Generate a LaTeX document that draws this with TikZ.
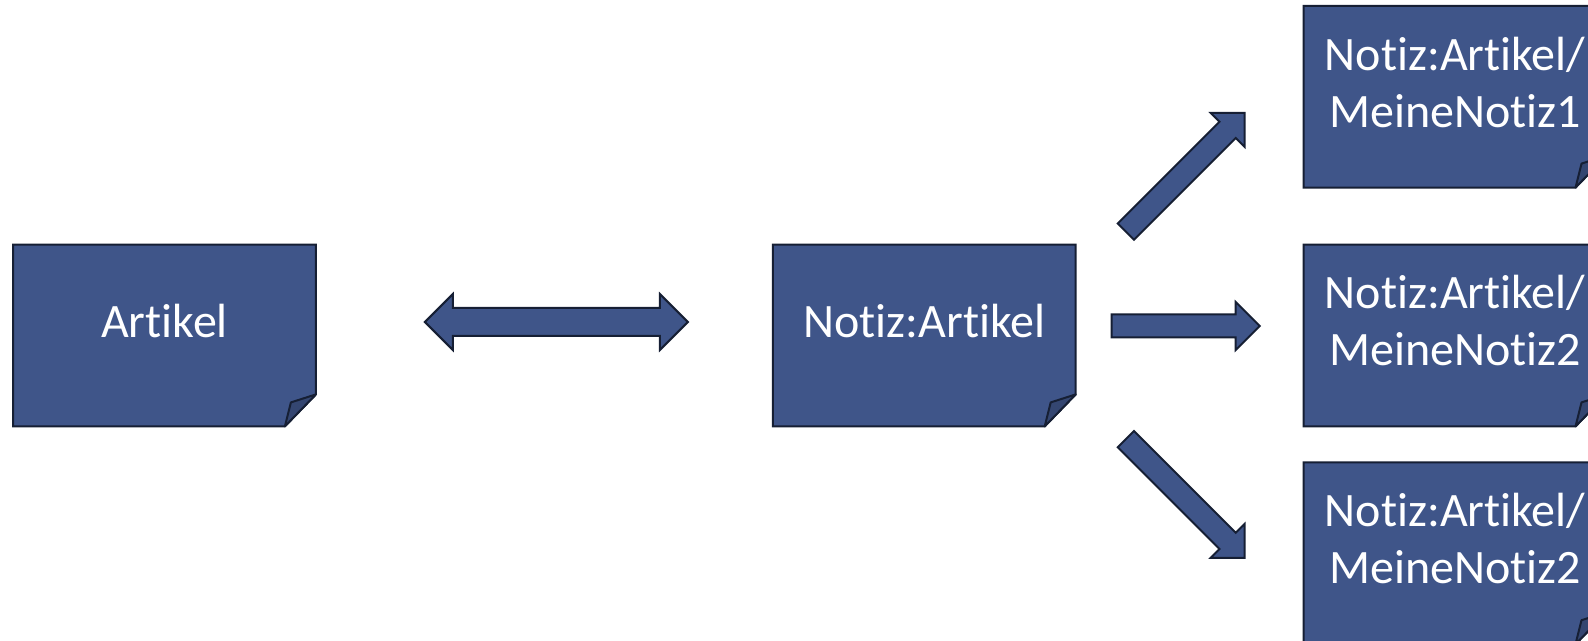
\documentclass[tikz,border=0pt]{standalone}
\usepackage{fontspec}
\setmainfont{Carlito}[Ligatures={NoCommon,NoContextual}, RawFeature={-calt}]
\usetikzlibrary{positioning,calc,backgrounds}

\definecolor{notizblau}{RGB}{63,85,137}
\definecolor{faltblau}{RGB}{52,70,113}
\definecolor{randblau}{RGB}{22,31,52}

\tikzset{
  notiz/.style={minimum width=151pt, minimum height=76pt, inner sep=0pt,
    align=center, text=white, font=\fontsize{24}{28.5}\selectfont},
  notizform/.style={fill=notizblau, draw=randblau, line width=1pt},
  falte/.style={fill=faltblau, draw=randblau, line width=1pt, line join=round},
  pfeil/.style={fill=notizblau, draw=randblau, line width=1pt, x=1pt, y=1pt}
}

\begin{document}
\begin{tikzpicture}[x=0.5pt, y=-0.5pt]
\useasboundingbox (0,0) rectangle (1588,641);

%% Notizen
\node[notiz] (artikel) at (164.5,321) {Artikel};
\node[notiz, right=228.5pt of artikel] (notiz) {Notiz:Artikel};
\node[notiz, right=114pt of notiz] (n2) {Notiz:Artikel/\\MeineNotiz2};
\node[notiz, above=43pt of n2] (n1) {Notiz:Artikel/\\MeineNotiz1};
\node[notiz, below=32.5pt of n2] (n3) {Notiz:Artikel/\\MeineNotiz2};

%% Zettel mit Eselsohr
\begin{scope}[on background layer]
 \foreach \n in {artikel, notiz, n1, n2, n3}
  {
    \draw[notizform] (\n.north west) -- (\n.north east) -- ([yshift=1.5pt]\n.south east)
      -- ([xshift=-15.5pt, yshift=-14.5pt]\n.south east) -- ([yshift=-14.5pt]\n.south west) -- cycle;
    \draw[falte] ([xshift=-15.5pt, yshift=-14.5pt]\n.south east)
      -- ([xshift=-12.5pt, yshift=-2.5pt]\n.south east) -- ([yshift=1.5pt]\n.south east) -- cycle;
  }
\end{scope}

%% Pfeile
\coordinate (dp) at ($(artikel.east)!0.5!(notiz.west) + (12,1)$);
\coordinate (p1) at ($(notiz.east)!0.5!(n2.west) + (-4.5,-148.75)$);
\coordinate (p2) at ($(notiz.east)!0.5!(n2.west) + (-4,5)$);
\coordinate (p3) at ($(notiz.east)!0.5!(n2.west) + (-4.5,177.5)$);

\draw[pfeil, shift={(dp)}] (-65.75,0) -- (-51.75,14) -- (-51.75,7) -- (51.75,7) -- (51.75,14)
  -- (65.75,0) -- (51.75,-14) -- (51.75,-7) -- (-51.75,-7) -- (-51.75,-14) -- cycle;

 \foreach \w/\l/\lage in {45/42/p1, 0/37/p2, -45/42/p3}
  {
    \draw[pfeil, shift={(\lage)}, rotate=\w] (-\l,-5.75) -- ({\l-12},-5.75) -- ({\l-12},-12)
      -- (\l,0) -- ({\l-12},12) -- ({\l-12},5.75) -- (-\l,5.75) -- cycle;
  }

\end{tikzpicture}
\end{document}
